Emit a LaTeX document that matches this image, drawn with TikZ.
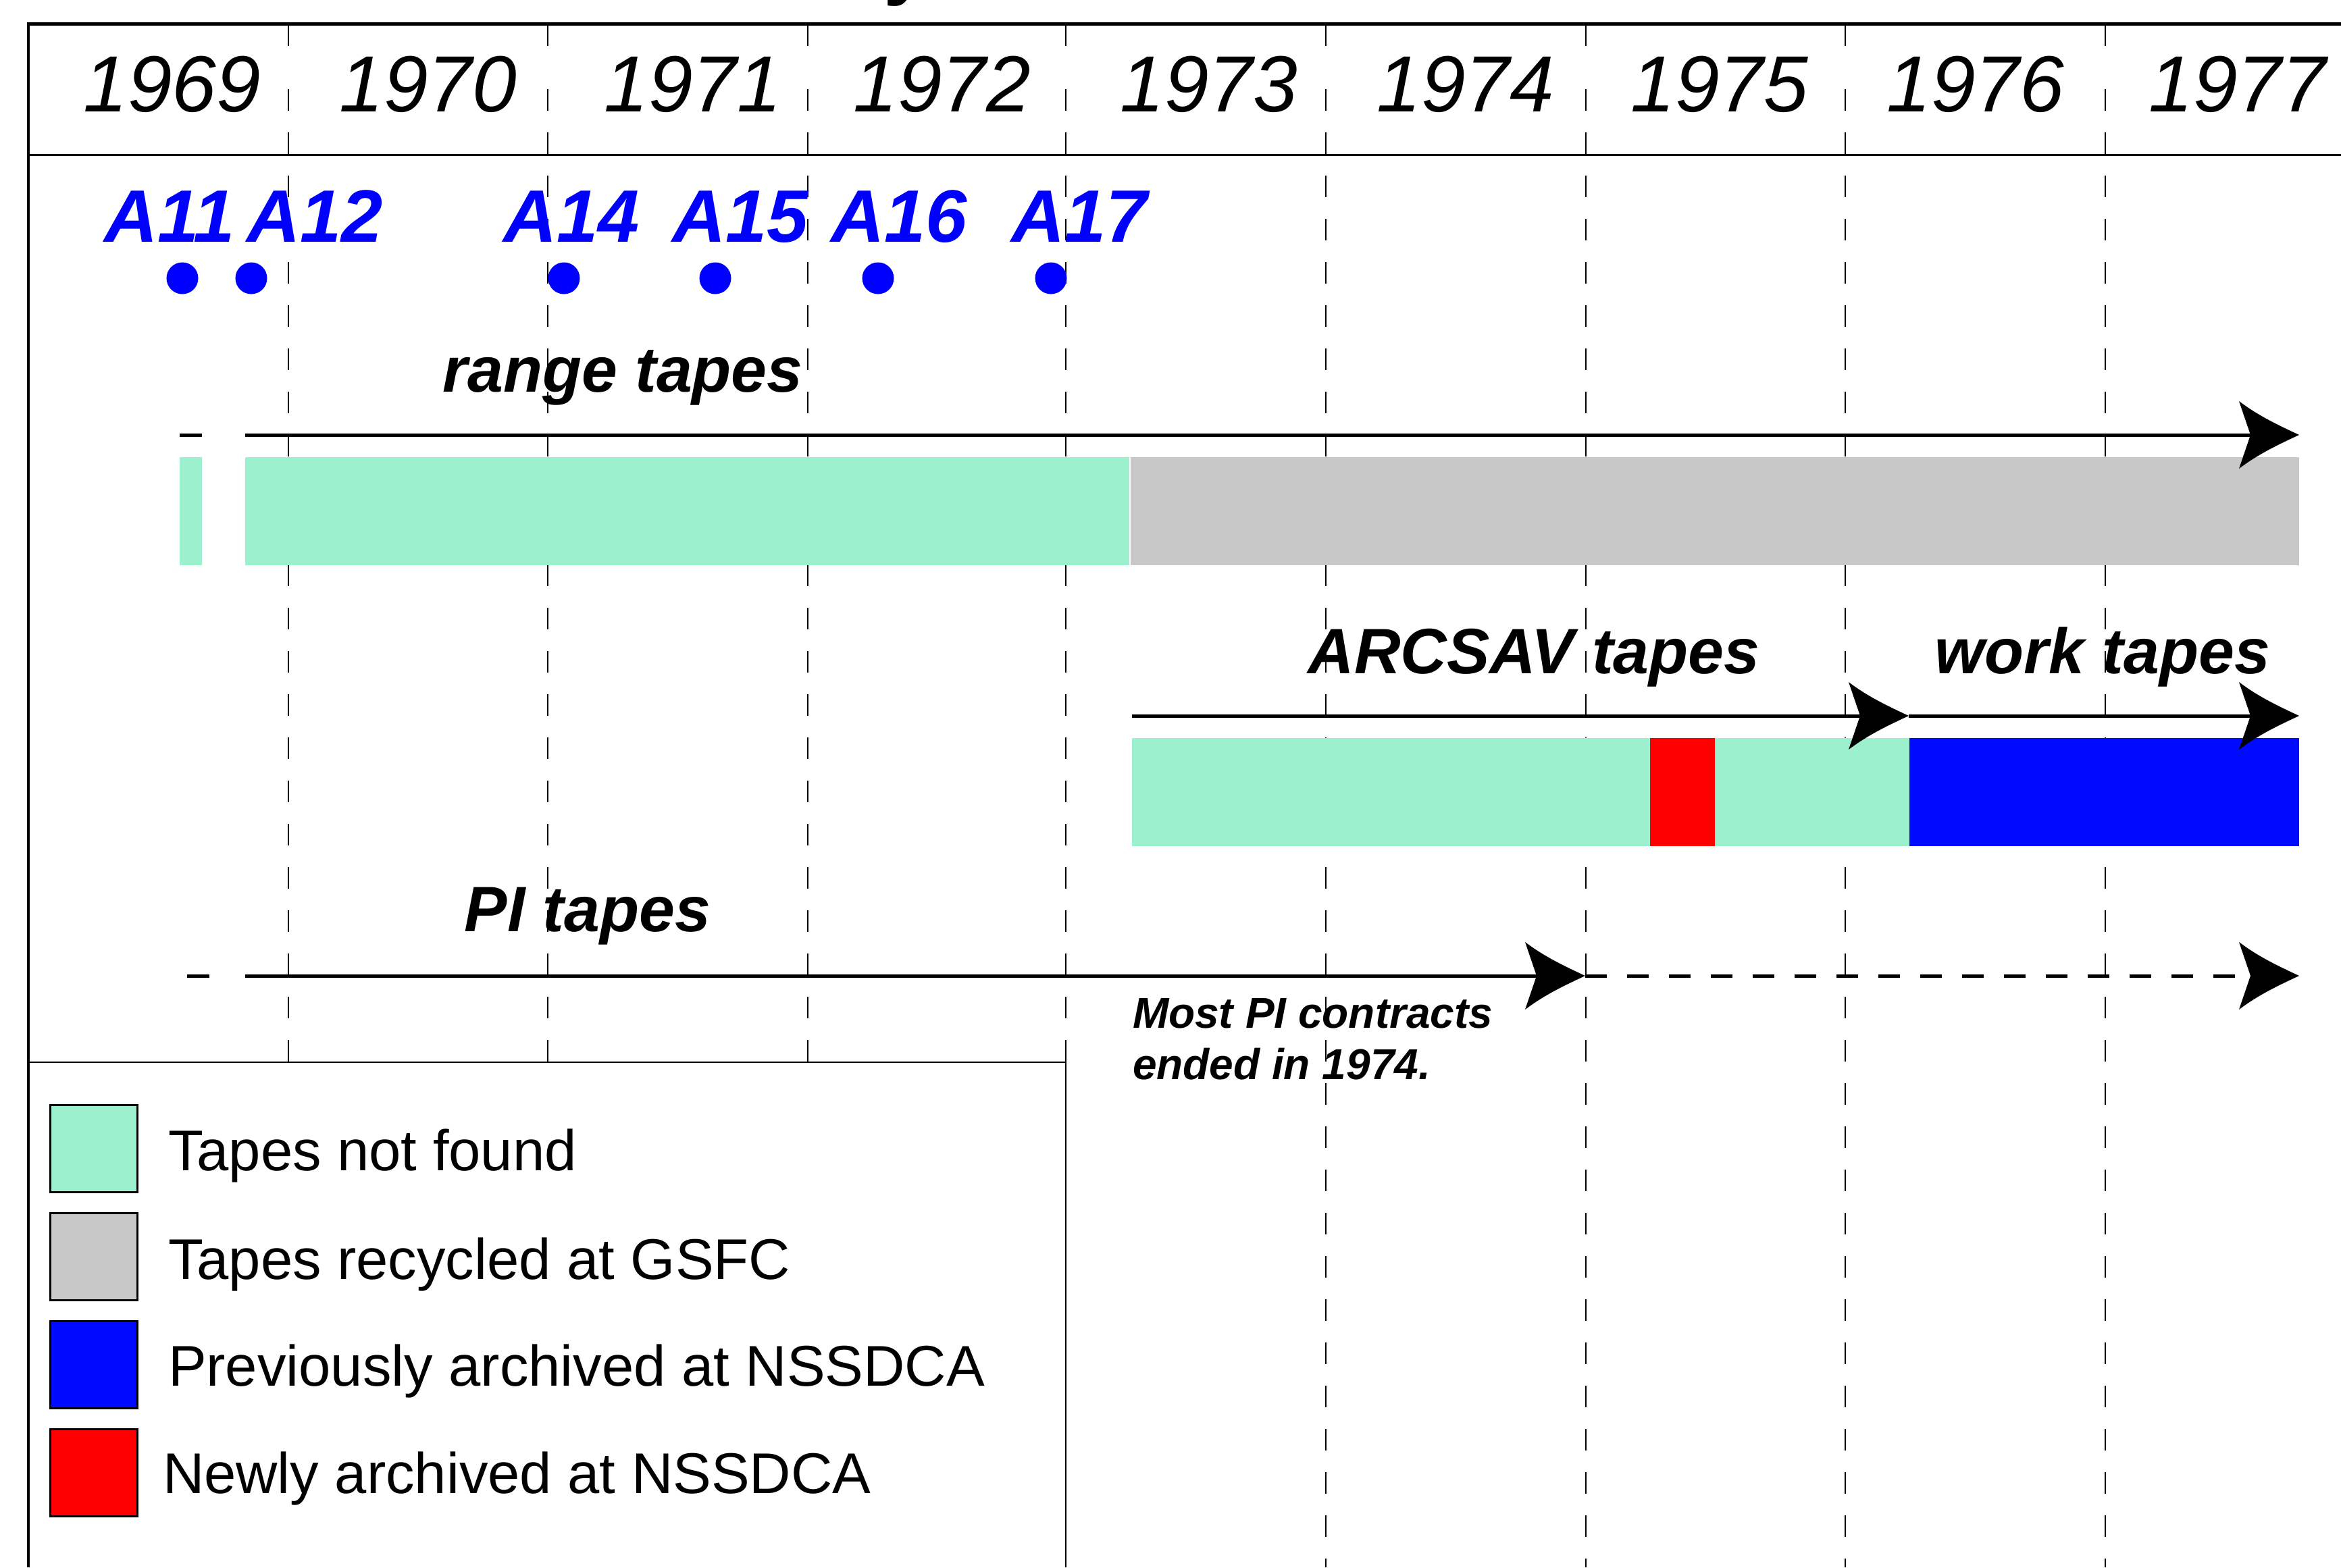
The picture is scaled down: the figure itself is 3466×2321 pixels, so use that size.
\documentclass[tikz,border=0pt]{standalone}
\usepackage{fontspec}
\setmainfont{Liberation Sans}
\definecolor{tgreen}{RGB}{156,240,206}
\definecolor{tgray}{RGB}{200,200,200}
\definecolor{tblue}{RGB}{0,10,255}
\definecolor{tred}{RGB}{255,0,0}
\definecolor{mblue}{RGB}{0,0,255}
\pgfdeclarearrow{
  name = Barb,
  setup code = {
    \pgfarrowssettipend{0pt}
    \pgfarrowssetlineend{-7pt}
    \pgfarrowssetbackend{-8.9pt}
    \pgfarrowsupperhullpoint{-8.9pt}{5pt}
    \pgfarrowsupperhullpoint{0pt}{0pt}
  },
  drawing code = {
    \pgfpathmoveto{\pgfqpoint{0pt}{0pt}}
    \pgfpathcurveto{\pgfqpoint{-3pt}{1.4pt}}{\pgfqpoint{-6pt}{2.8pt}}{\pgfqpoint{-8.9pt}{5pt}}
    \pgfpathlineto{\pgfqpoint{-7.2pt}{0pt}}
    \pgfpathlineto{\pgfqpoint{-8.9pt}{-5pt}}
    \pgfpathcurveto{\pgfqpoint{-6pt}{-2.8pt}}{\pgfqpoint{-3pt}{-1.4pt}}{\pgfqpoint{0pt}{0pt}}
    \pgfpathclose
    \pgfusepathqfill
  }
}
\begin{document}
\begin{tikzpicture}[x=0.1pt,y=-0.1pt,
  yr/.style={anchor=base, inner sep=0pt, font=\itshape\fontsize{11.8}{14}\selectfont},
  mis/.style={anchor=base, inner sep=0pt, text=mblue, font=\bfseries\itshape\fontsize{11}{13}\selectfont},
  mdot/.style={circle, fill=mblue, inner sep=0pt, minimum size=4.7pt},
  sec/.style={anchor=base, inner sep=0pt, font=\bfseries\itshape\fontsize{9.5}{11}\selectfont},
  note/.style={anchor=base west, inner sep=0pt, font=\bfseries\itshape\fontsize{6.4}{7.7}\selectfont},
  legtxt/.style={anchor=base west, inner sep=0pt, font=\fontsize{8.5}{10}\selectfont},
  swatch/.style={rectangle, draw=black, line width=0.3pt, inner sep=0pt, minimum width=13pt, minimum height=12.9pt},
  divsolid/.style={line width=0.25pt},
  divdash/.style={line width=0.25pt, dash pattern=on 3.2pt off 3.2pt},
  arrowline/.style={line width=0.5pt}
]
\useasboundingbox (0,0) rectangle (3466,2321);
\fill[white] (0,0) rectangle (3466,2321);

% title fragment (cut off at the top)
\begin{scope}
\clip (0,0) rectangle (3466,2321);
\node[anchor=base west, inner sep=0pt, font=\bfseries\fontsize{12}{14}\selectfont] (ttl) at (1306,-16) {y};
\end{scope}

% year dividers
\foreach \x in {427,811,1196,1578} {
  \draw[divsolid] (\x,37) -- (\x,68);
  \draw[divdash] (\x,132) -- (\x,1573);
}
\foreach \x in {1963,2348,2732,3117} {
  \draw[divsolid] (\x,37) -- (\x,68);
  \draw[divdash] (\x,132) -- (\x,2321);
}

% frame
\draw[line width=0.5pt] (40,35) -- (3466,35);
\draw[line width=0.45pt] (42,33) -- (42,2321);
\draw[line width=0.3pt] (42,229) -- (3466,229);

% legend frame
\draw[line width=0.25pt] (42,1573) -- (1578,1573) -- (1578,2321);

% years
\node[yr] (y1969) at (255,165) {1969};
\node[yr] (y1970) at (634,165) {1970};
\node[yr] (y1971) at (1026,165) {1971};
\node[yr] (y1972) at (1395,165) {1972};
\node[yr] (y1973) at (1790,165) {1973};
\node[yr] (y1974) at (2170,165) {1974};
\node[yr] (y1975) at (2546,165) {1975};
\node[yr] (y1976) at (2925,165) {1976};
\node[yr] (y1977) at (3313,165) {1977};

% missions
\node[mis] (m11) at (251,358) {A11};
\node[mis] (m12) at (466,358) {A12};
\node[mis] (m14) at (846,358) {A14};
\node[mis] (m15) at (1096,358) {A15};
\node[mis] (m16) at (1331,358) {A16};
\node[mis] (m17) at (1598,358) {A17};
\node[mdot] (d11) at (270,412) {};
\node[mdot] (d12) at (372,412) {};
\node[mdot] (d14) at (835,412) {};
\node[mdot] (d15) at (1059,412) {};
\node[mdot] (d16) at (1300,412) {};
\node[mdot] (d17) at (1556,412) {};

% bars
\fill[tgreen] (266,677) rectangle (299,837);
\fill[tgreen] (363,677) rectangle (1672,837);
\fill[tgray] (1674,677) rectangle (3404,837);
\fill[tgreen] (1676,1093) rectangle (2443,1253);
\fill[tred] (2443,1093) rectangle (2539,1253);
\fill[tgreen] (2539,1093) rectangle (2827,1253);
\fill[tblue] (2827,1093) rectangle (3404,1253);

% arrows
\coordinate (r0) at (266,644);
\coordinate (r1) at (299,644);
\coordinate (r2) at (363,644);
\coordinate (r3) at (3404,644);
\draw[arrowline] (r0) -- (r1);
\draw[arrowline, -Barb] (r2) -- (r3);

\coordinate (a0) at (1676,1060);
\coordinate (a1) at (2826,1060);
\coordinate (a2) at (3404,1060);
\draw[arrowline, -Barb] (a0) -- (a1);
\draw[arrowline, -Barb] (a1) -- (a2);

\coordinate (p0) at (277,1445);
\coordinate (p1) at (310,1445);
\coordinate (p2) at (363,1445);
\coordinate (p3) at (2347,1445);
\coordinate (p4) at (3404,1445);
\draw[arrowline] (p0) -- (p1);
\draw[arrowline, -Barb] (p2) -- (p3);
\draw[arrowline, dash pattern=on 3.2pt off 3pt, -Barb] (p3) -- (p4);

% section labels
\node[sec] (lrange) at (922,580) {range tapes};
\node[sec] (larc) at (2271,997) {ARCSAV tapes};
\node[sec] (lwork) at (3113,997) {work tapes};
\node[sec] (lpi) at (870,1379) {PI tapes};
\node[note] (n1) at (1675,1522) {Most PI contracts};
\node[note] (n2) at (1675,1598) {ended in 1974.};

% legend
\node[swatch, fill=tgreen] (s1) at (139,1700.5) {};
\node[swatch, fill=tgray] (s2) at (139,1860.5) {};
\node[swatch, fill=tblue] (s3) at (139,2020.5) {};
\node[swatch, fill=tred] (s4) at (139,2180.5) {};
\node[legtxt] (t1) at (247,1733) {Tapes not found};
\node[legtxt] (t2) at (247,1894) {Tapes recycled at GSFC};
\node[legtxt] (t3) at (247,2052) {Previously archived at NSSDCA};
\node[legtxt] (t4) at (239,2211) {Newly archived at NSSDCA};
\end{tikzpicture}
\end{document}
